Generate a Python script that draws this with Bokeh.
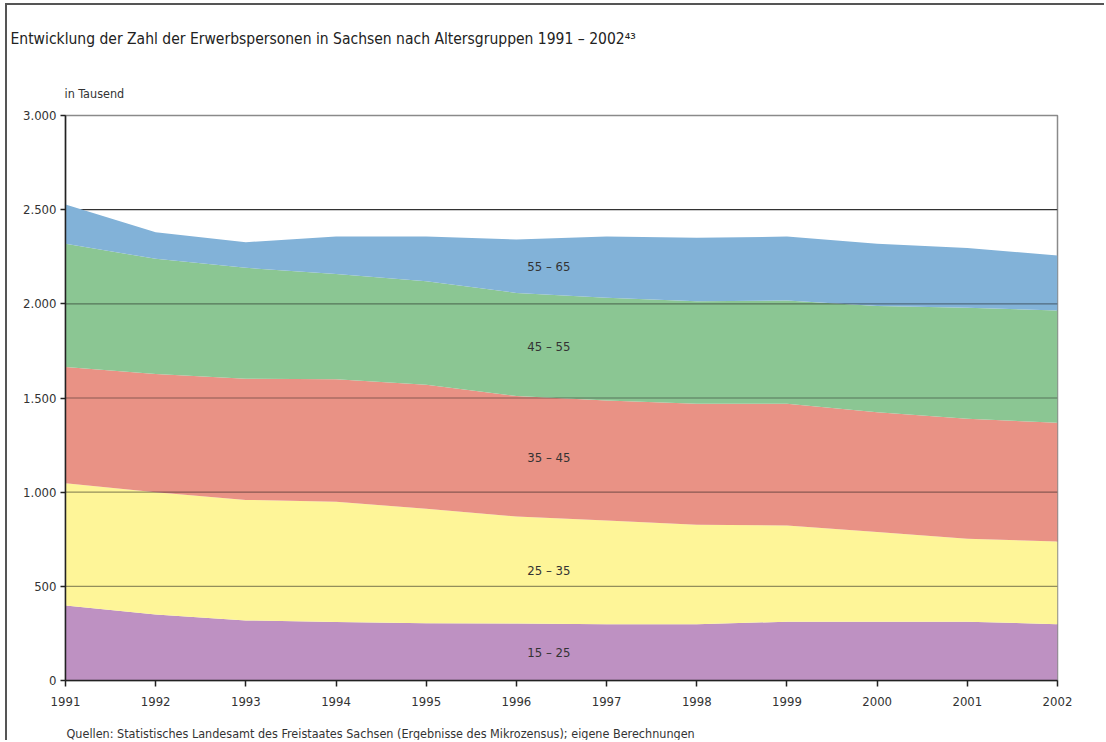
import numpy as np
from bokeh.plotting import figure
from bokeh.models import Range1d, FixedTicker, Span, Title, ColumnDataSource
from bokeh.embed import file_html
from bokeh.resources import INLINE
from bokeh.core.properties import value

# ---------------- data (in Tausend) ----------------
years = [1991, 1992, 1993, 1994, 1995, 1996, 1997, 1998, 1999, 2000, 2001, 2002]
age_15_25 = [398, 350, 319, 310, 304, 303, 299, 299, 312, 312, 312, 299]
age_25_35 = [650, 650, 640, 639, 608, 568, 551, 528, 511, 476, 440, 439]
age_35_45 = [616, 628, 643, 651, 658, 639, 637, 642, 646, 637, 638, 630]
age_45_55 = [655, 611, 589, 559, 550, 548, 545, 545, 549, 563, 589, 597]
age_55_65 = [208, 141, 136, 198, 237, 284, 325, 337, 339, 331, 318, 292]

group_labels = ["15 – 25", "25 – 35", "35 – 45", "45 – 55", "55 – 65"]
colors = ["#BE91C2", "#FEF598", "#E99285", "#8BC693", "#82B2D8"]

y_ticks = [0, 500, 1000, 1500, 2000, 2500, 3000]
y_tick_labels = ["0", "500", "1.000", "1.500", "2.000", "2.500", "3.000"]
x_tick_labels = [str(y) for y in years]

title_text = "Entwicklung der Zahl der Erwerbspersonen in Sachsen nach Altersgruppen 1991 – 2002⁴³"
unit_text = "in Tausend"
source_text = ("Quellen: Statistisches Landesamt des Freistaates Sachsen "
               "(Ergebnisse des Mikrozensus); eigene Berechnungen")

FONT = "DejaVu Sans Condensed"
TXT = "#333333"

# ---------------- figure ----------------
W, H = 1099, 737
MBL, MBR, MBT, MBB = 58, 49, 110, 62
p = figure(width=W, height=H, output_backend="svg", toolbar_location=None,
           x_range=Range1d(1991, 2002), y_range=Range1d(0, 3000),
           min_border_left=MBL, min_border_right=MBR,
           min_border_top=MBT, min_border_bottom=MBB)
p.styles = {"border-top": "2px solid #555555", "border-left": "2px solid #555555",
            "margin-top": "3px", "margin-left": "5px"}
p.background_fill_color = "white"
p.border_fill_color = "white"
p.outline_line_color = "#8a8a8a"
p.outline_line_width = 1.5
p.xgrid.visible = False
p.ygrid.visible = False

# titles (outside the frame)
p.title.text = title_text
p.title.align = "left"
p.title.offset = -55
p.title.standoff = 42
p.title.text_font = FONT
p.title.text_font_size = "15.5px"
p.title.text_font_style = "normal"
p.title.text_color = "#222222"

p.add_layout(Title(text=unit_text, align="left", offset=-1, standoff=30,
                   text_font=FONT, text_font_size="12.5px", text_font_style="normal",
                   text_color=TXT), "above")
# small blank spacer between the x axis and the source line
p.add_layout(Title(text=" ", align="left", standoff=2, text_font=FONT,
                   text_font_size="8px", text_font_style="normal"), "below")
p.add_layout(Title(text=source_text, align="left", offset=1, standoff=4,
                   text_font=FONT, text_font_size="12.5px", text_font_style="normal",
                   text_color=TXT), "below")

keys = ["a1525", "a2535", "a3545", "a4555", "a5565"]
src = ColumnDataSource(dict(year=years, a1525=age_15_25, a2535=age_25_35,
                            a3545=age_35_45, a4555=age_45_55, a5565=age_55_65))

# grid line at 2500 lies beneath the areas
p.add_layout(Span(location=2500, dimension="width", line_color="#333333",
                  line_width=1.2, level="underlay"))

p.varea_stack(stackers=keys, x="year", color=colors, source=src)

# remaining grid lines drawn over the areas (semi-transparent)
for v in y_ticks[1:5]:
    p.add_layout(Span(location=v, dimension="width", line_color="#111111",
                      line_alpha=0.45, line_width=1.2))

# area labels at the middle of each band
series = np.array([age_15_25, age_25_35, age_35_45, age_45_55, age_55_65], dtype=float)
cum = np.cumsum(series, axis=0)
lab_x = 1996.36
i0 = 5
fr = lab_x - years[i0]
lab_y = []
for k in range(5):
    top = cum[k, i0] + fr * (cum[k, i0 + 1] - cum[k, i0])
    bot = 0.0 if k == 0 else cum[k - 1, i0] + fr * (cum[k - 1, i0 + 1] - cum[k - 1, i0])
    lab_y.append((top + bot) / 2)
p.text(x=[lab_x] * 5, y=lab_y, text=group_labels, text_align="center",
       text_baseline="middle", text_font=value(FONT), text_font_size="13px",
       text_color=TXT)

# axes
yax = p.yaxis[0]
yax.ticker = FixedTicker(ticks=y_ticks)
yax.major_label_overrides = {t: l for t, l in zip(y_ticks, y_tick_labels)}
yax.minor_tick_line_color = None
yax.major_tick_in = 0
yax.major_tick_out = 5
yax.major_tick_line_color = "#222222"
yax.major_tick_line_width = 1.5
yax.axis_line_color = "#222222"
yax.axis_line_width = 1.5
yax.major_label_text_font = FONT
yax.major_label_text_font_size = "13px"
yax.major_label_text_color = TXT
yax.major_label_standoff = 4

xax = p.xaxis[0]
xax.ticker = FixedTicker(ticks=years)
xax.major_label_overrides = {y: l for y, l in zip(years, x_tick_labels)}
xax.minor_tick_line_color = None
xax.major_tick_in = 0
xax.major_tick_out = 6
xax.major_tick_line_color = "#222222"
xax.major_tick_line_width = 1.5
xax.axis_line_color = "#222222"
xax.axis_line_width = 1.5
xax.major_label_text_font = FONT
xax.major_label_text_font_size = "13px"
xax.major_label_text_color = TXT
xax.major_label_standoff = 10

open("out.html", "w").write(file_html(p, INLINE))
